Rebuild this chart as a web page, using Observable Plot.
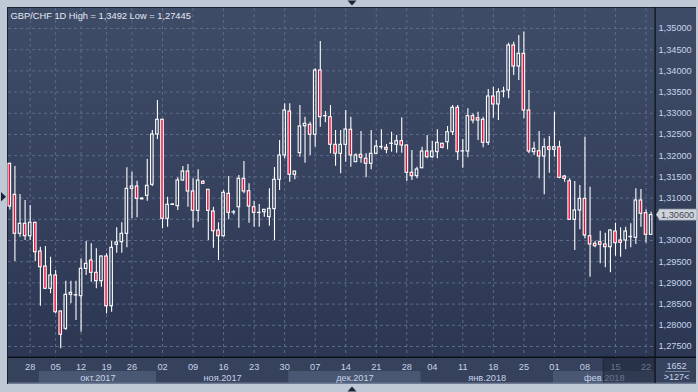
<!DOCTYPE html>
<html><head><meta charset="utf-8">
<script src="https://cdn.jsdelivr.net/npm/d3@7"></script>
<script src="https://cdn.jsdelivr.net/npm/@observablehq/plot@0.6"></script>
<style>
html,body{margin:0;padding:0;background:#bfc8d5;}
#chart{width:698px;height:392px;overflow:hidden;}
</style>
</head><body><div id="chart"></div>
<script>
const title = "GBP/CHF 1D High = 1,3492 Low = 1,27445";
const cornerTop = "1652";
const cornerBottom = ">127<";

const open = [1.31809,1.31078,1.30158,1.30394,1.30101,1.30417,1.2974,1.29387,1.28861,1.29175,
1.28325,1.27917,1.28719,1.2871,1.28686,1.29332,1.29528,1.29238,1.2904,1.29623,
1.2845,1.29899,1.2996,1.30158,1.31219,1.31274,1.3097,1.31054,1.31314,1.325,
1.32847,1.30512,1.3084,1.30809,1.31415,1.31627,1.31156,1.307,1.31384,1.31196,
1.30684,1.30236,1.30101,1.31101,1.3066,1.30785,1.31455,1.31163,1.30785,1.30653,
1.30667,1.3055,1.3074,1.31432,1.32005,1.33042,1.3155,1.32059,1.32696,1.32729,
1.32493,1.34009,1.3293,1.32908,1.32257,1.32045,1.32257,1.32611,1.31847,1.32021,
1.31927,1.31809,1.32045,1.322,1.32186,1.3228,1.32257,1.32342,1.32241,1.31597,
1.31517,1.31705,1.32099,1.31965,1.32083,1.32281,1.32318,1.32554,1.3313,1.321,
1.32099,1.32932,1.32884,1.32847,1.32304,1.33396,1.33208,1.3351,1.33538,1.34599,
1.34104,1.34403,1.33066,1.32083,1.32106,1.31981,1.322,1.32139,1.322,1.31509,
1.31399,1.30488,1.30708,1.30983,1.30101,1.29922,1.2996,1.29906,1.29842,1.30212,
1.3,1.3,1.3008,1.30064,1.30943,1.30644,1.30134];
const close = [1.30802,1.30158,1.30394,1.30101,1.30417,1.29724,1.2937,1.28861,1.29175,1.28309,
1.27776,1.28719,1.28766,1.28703,1.29332,1.2945,1.29238,1.2904,1.29623,1.2845,
1.29828,1.29953,1.30158,1.31219,1.31274,1.30983,1.3099,1.3129,1.325,1.32847,
1.30512,1.30842,1.3085,1.31415,1.31627,1.31156,1.307,1.31415,1.31337,1.307,
1.30219,1.30101,1.31125,1.30653,1.30665,1.31455,1.31156,1.30802,1.30653,1.30648,
1.30724,1.30748,1.31432,1.32005,1.33066,1.3155,1.31627,1.32689,1.32752,1.32493,
1.34009,1.32908,1.32935,1.32257,1.32045,1.32257,1.32618,1.32005,1.32005,1.3195,
1.31809,1.32045,1.32217,1.32205,1.32139,1.32285,1.32342,1.32241,1.31597,1.31517,
1.31674,1.32099,1.31965,1.32099,1.32304,1.32186,1.32554,1.3313,1.32083,1.32105,
1.32932,1.3283,1.3283,1.32304,1.33396,1.33208,1.33498,1.33515,1.34599,1.34104,
1.34403,1.33066,1.32099,1.32163,1.31981,1.322,1.32139,1.322,1.31479,1.31455,
1.30488,1.30708,1.30983,1.30118,1.29906,1.29866,1.29899,1.29842,1.30236,1.29936,
1.29946,1.30212,1.30085,1.30943,1.3063,1.30134,1.306];
const high = [1.3182,1.31745,1.31085,1.30943,1.30825,1.3043,1.29842,1.29858,1.29606,1.29292,
1.2834,1.2904,1.2904,1.2904,1.29568,1.29976,1.29922,1.29804,1.2963,1.29686,
1.29976,1.303,1.30417,1.31715,1.31611,1.31399,1.31,1.3191,1.32594,1.33302,
1.3285,1.31021,1.3086,1.31479,1.31745,1.31792,1.31455,1.31667,1.31415,1.312,
1.30785,1.30417,1.3118,1.31509,1.30708,1.31533,1.31863,1.31337,1.3092,1.30849,
1.3073,1.31219,1.31722,1.32358,1.33224,1.33224,1.3163,1.33184,1.32908,1.3279,
1.3405,1.34693,1.33042,1.33184,1.32594,1.32594,1.33066,1.32908,1.32045,1.32571,
1.32045,1.32594,1.32358,1.32611,1.32264,1.32554,1.32476,1.32894,1.3225,1.32123,
1.31729,1.322,1.32476,1.32335,1.32611,1.32295,1.32689,1.33184,1.33184,1.32382,
1.33106,1.32988,1.33026,1.32908,1.33561,1.33616,1.33578,1.33616,1.34653,1.34677,
1.34835,1.3492,1.33538,1.32318,1.32571,1.32399,1.32453,1.33026,1.32342,1.31533,
1.31455,1.31391,1.31297,1.32436,1.31257,1.29984,1.30219,1.30172,1.30252,1.30408,
1.303,1.30314,1.30394,1.31219,1.31203,1.30724,1.30667];
const low = [1.3072,1.29505,1.30078,1.3,1.3,1.29505,1.2845,1.2884,1.28743,1.28271,
1.27445,1.27877,1.28507,1.28113,1.27837,1.29175,1.29016,1.28861,1.28899,1.28271,
1.28309,1.297,1.297,1.29828,1.30512,1.30535,1.3096,1.30927,1.31274,1.32382,
1.30276,1.30314,1.3083,1.30708,1.31399,1.30785,1.3029,1.30432,1.31337,1.3,
1.29818,1.29528,1.3008,1.30488,1.30601,1.3029,1.31101,1.30408,1.30314,1.30314,
1.3055,1.30337,1.3,1.31179,1.31927,1.31375,1.31432,1.31965,1.31823,1.32005,
1.322,1.32672,1.32776,1.32045,1.31752,1.31573,1.31847,1.31729,1.31847,1.31823,
1.31479,1.31667,1.32028,1.32139,1.32045,1.32083,1.32059,1.32059,1.31391,1.31415,
1.31455,1.31691,1.31927,1.31941,1.31927,1.32163,1.32139,1.32476,1.31887,1.31705,
1.3195,1.32752,1.32358,1.32186,1.32241,1.32884,1.3283,1.33366,1.33342,1.33892,
1.33774,1.3287,1.32045,1.32005,1.31455,1.31078,1.31587,1.31965,1.31455,1.31375,
1.3048,1.29764,1.30252,1.3004,1.29134,1.29828,1.2945,1.29356,1.29238,1.2963,
1.29606,1.29781,1.29828,1.29906,1.30314,1.29936,1.30134];

const dayIdx = [4,9,14,19,24,30,36,42,48,54,60,66,72,78,83,89,95,101,107,113,119,125];
const dayLabels = ["28","05","12","19","26","02","09","16","23","30","07","14","21","28","04","11","18","25","01","08","15","22"];
const monthLabels = ["окт.2017","ноя.2017","дек.2017","янв.2018","фев.2018"];
const monthFirst = [6,29,55,81,107];
const monthLast = [28,54,80,106,126];
const monthShaded = [true,false,true,false,true];
const priceTicks = [1.275,1.28,1.285,1.29,1.295,1.30,1.305,1.31,1.315,1.32,1.325,1.33,1.335,1.34,1.345,1.35];

const RED = "#e8133a";
const FONT = "'Liberation Sans', Arial, sans-serif";
const LABEL = "#c6d4ea";
const XMIN = -0.26, XMAX = 126.86;

const candles = open.map((o, i) => ({i, o, h: high[i], l: low[i], c: close[i],
  top: Math.max(o, close[i]), bot: Math.min(o, close[i]), up: close[i] >= o}));
const lastClose = close[close.length - 1];
const fmt = p => p.toFixed(5).replace(".", ",");

function back(index, scales, values, dims) {
  const {width, height} = dims;
  const L = dims.marginLeft, T = dims.marginTop;
  const R = width - dims.marginRight, B = height - dims.marginBottom;
  const E = width - 2, P = B + 27;
  const g = d3.create("svg:g");
  const lg = g.append("defs").append("linearGradient").attr("id", "bgGrad")
    .attr("x1", 0).attr("y1", 0).attr("x2", 0).attr("y2", 1);
  lg.append("stop").attr("offset", "0%").attr("stop-color", "#3f4c68");
  lg.append("stop").attr("offset", "100%").attr("stop-color", "#2c3753");
  g.append("rect").attr("x", L - 1).attr("y", T - 1).attr("width", E - L + 1).attr("height", B - T + 1).attr("fill", "url(#bgGrad)");
  g.append("rect").attr("x", L - 1).attr("y", T - 1).attr("width", E - L + 1).attr("height", 1).attr("fill", "#1a2130");
  g.append("rect").attr("x", L - 1).attr("y", T - 1).attr("width", 1).attr("height", P - T + 1).attr("fill", "#1a2130");
  g.append("rect").attr("x", L).attr("y", B).attr("width", E - L).attr("height", P - B).attr("fill", "#36415c");
  monthFirst.forEach((f, k) => {
    if (!monthShaded[k]) return;
    const x1 = Math.max(L, scales.x(f - 0.2)), x2 = Math.min(R, scales.x(monthLast[k] + 0.8));
    g.append("rect").attr("x", x1).attr("y", B + 14).attr("width", x2 - x1).attr("height", P - B - 14).attr("fill", "#4a5772");
  });
  g.append("rect").attr("x", L).attr("y", P - 1.5).attr("width", E - L).attr("height", 1.5).attr("fill", "#6e7b93");
  return g.node();
}

function front(index, scales, values, dims) {
  const {width, height} = dims;
  const L = dims.marginLeft;
  const R = width - dims.marginRight, B = height - dims.marginBottom;
  const E = width - 2, P = B + 27;
  const g = d3.create("svg:g");
  const xs = scales.x(116.6);
  g.append("rect").attr("x", xs).attr("y", B).attr("width", R - xs).attr("height", P - B - 1.5).attr("fill", "#1b2439").attr("fill-opacity", 0.55);
  g.append("rect").attr("x", xs).attr("y", B).attr("width", 1).attr("height", P - B - 1.5).attr("fill", "#222b40");
  g.append("rect").attr("x", L).attr("y", B - 0.5).attr("width", E - L).attr("height", 1.5).attr("fill", "#0c1018");
  g.append("rect").attr("x", R - 0.5).attr("y", dims.marginTop - 1).attr("width", 1.2).attr("height", P - dims.marginTop).attr("fill", "#0c1018");
  g.append("text").attr("x", (R + E) / 2 + 1).attr("y", B + 11.5).attr("text-anchor", "middle")
    .attr("fill", LABEL).attr("font-size", 9).attr("font-family", FONT).text(cornerTop);
  g.append("rect").attr("x", R + 10).attr("y", B + 14).attr("width", 25).attr("height", 0.8).attr("fill", "#8594ad");
  g.append("text").attr("x", (R + E) / 2 + 1).attr("y", B + 23).attr("text-anchor", "middle")
    .attr("fill", LABEL).attr("font-size", 9).attr("font-family", FONT).text(cornerBottom);
  const y = scales.y(lastClose);
  g.append("rect").attr("x", R + 4).attr("y", y - 5.5).attr("width", E - R - 3).attr("height", 11)
    .attr("fill", "#cfd4dc").attr("stroke", "#98a1b0").attr("stroke-width", 0.7);
  g.append("polygon").attr("points", `${R + 1},${y} ${R + 4.6},${y - 5.1} ${R + 4.6},${y + 5.1}`)
    .attr("fill", "#cfd4dc");
  const cx = 352;
  g.append("polygon").attr("points", `${cx - 4.5},0.5 ${cx + 4.5},0.5 ${cx},5.5`).attr("fill", "#1c2538");
  g.append("polygon").attr("points", `${cx - 4.5},${height - 0.5} ${cx + 4.5},${height - 0.5} ${cx},${height - 5.5}`).attr("fill", "#1c2538");
  g.append("polygon").attr("points", `1,192 6,196.7 1,201.4`).attr("fill", "#1c2538");
  return g.node();
}

const chart = Plot.plot({
  width: 698, height: 392,
  marginLeft: 8, marginRight: 43, marginTop: 8, marginBottom: 35,
  style: {background: "#bfc8d5", fontFamily: FONT, overflow: "visible"},
  x: {domain: [XMIN, XMAX], axis: null},
  y: {domain: [1.272406, 1.354717], axis: null},
  marks: [
    back,
    Plot.ruleY(priceTicks, {stroke: "#5d6b89", strokeDasharray: "3,3", strokeWidth: 1}),
    Plot.ruleX(dayIdx, {stroke: "#5d6b89", strokeDasharray: "3,3", strokeWidth: 1}),
    Plot.ruleX(candles, {x: "i", y1: "l", y2: "bot", stroke: "white", strokeWidth: 1.1}),
    Plot.ruleX(candles, {x: "i", y1: "top", y2: "h", stroke: "white", strokeWidth: 1.1}),
    Plot.rect(candles.filter(d => d.up), {x1: d => d.i - 0.25, x2: d => d.i + 0.25, y1: "bot", y2: "top", fill: "none", stroke: "white", strokeWidth: 1.1}),
    Plot.rect(candles.filter(d => !d.up), {x1: d => d.i - 0.25, x2: d => d.i + 0.25, y1: "bot", y2: "top", fill: RED, stroke: "white", strokeWidth: 1.1}),
    Plot.text(priceTicks.filter(p => p !== 1.305), {y: d => d, text: fmt, frameAnchor: "right", textAnchor: "start", lineAnchor: "middle", dx: 3, fill: LABEL, fontSize: 9.2}),
    Plot.text(dayIdx, {x: d => d, text: (d, i) => dayLabels[i], frameAnchor: "bottom", lineAnchor: "middle", dy: 9.4, fill: LABEL, fontSize: 9.2}),
    Plot.text(monthLabels, {x: (d, i) => (monthFirst[i] - 0.2 + Math.min(monthLast[i] + 0.8, XMAX)) / 2, text: d => d, frameAnchor: "bottom", lineAnchor: "middle", dy: 20.1, fill: LABEL, fontSize: 9.2}),
    Plot.text([title], {text: d => d, frameAnchor: "top-left", textAnchor: "start", lineAnchor: "middle", dx: 2, dy: 7.4, fill: "#e4eaf4", fontSize: 9.3}),
    front,
    Plot.text([lastClose], {y: d => d, text: fmt, frameAnchor: "right", textAnchor: "start", lineAnchor: "middle", dx: 5.5, fill: "#3f4552", fontSize: 9.2})
  ]
});
document.getElementById("chart").appendChild(chart);
</script>
</body></html>
